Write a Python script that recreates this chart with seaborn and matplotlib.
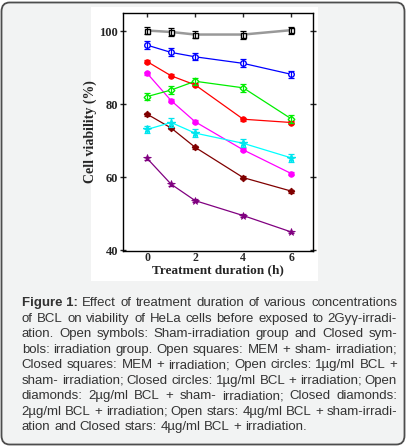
import matplotlib
matplotlib.use("Agg")
import matplotlib.pyplot as plt
import seaborn as sns
import pandas as pd
from matplotlib.patches import FancyBboxPatch, Rectangle

# data
hours = [0, 1, 2, 4, 6]
mem_sham = [100.2, 99.8, 99.1, 99.1, 100.3]
bcl1_sham = [96.2, 94.2, 93.0, 91.2, 88.2]
bcl1_irr = [91.7, 87.8, 85.3, 75.9, 75.0]
mem_irr = [88.5, 81.0, 75.2, 67.5, 61.0]
bcl2_sham = [82.1, 83.9, 86.3, 84.5, 76.0]
bcl2_irr = [77.3, 73.5, 68.2, 59.9, 56.2]
bcl4_sham = [73.1, 75.0, 72.1, 69.3, 65.3]
bcl4_irr = [65.2, 58.1, 53.6, 49.5, 45.0]
sham_err = [1.0, 1.1, 1.0, 1.1, 1.0]
irr_err = [0.4, 0.4, 0.4, 0.4, 0.4]

series = [
    ("MEM + sham", mem_sham, sham_err, "#000000", "#999999", "s", True),
    ("1ug BCL + sham", bcl1_sham, sham_err, "#0000ff", "#0000ff", "o", True),
    ("1ug BCL + irr", bcl1_irr, irr_err, "#ff0000", "#ff0000", "o", False),
    ("MEM + irr", mem_irr, irr_err, "#ff00ff", "#ff00ff", "o", False),
    ("2ug BCL + sham", bcl2_sham, sham_err, "#00ee00", "#00ee00", "D", True),
    ("2ug BCL + irr", bcl2_irr, irr_err, "#800000", "#800000", "D", False),
    ("4ug BCL + sham", bcl4_sham, sham_err, "#00e5ee", "#00ffff", "*", True),
    ("4ug BCL + irr", bcl4_irr, irr_err, "#800080", "#800080", "*", False),
]

caption = [
    "Effect of treatment duration of various concentrations",
    "of BCL on viability of HeLa cells before exposed to 2Gyγ-irradi-",
    "ation. Open symbols: Sham-irradiation group and Closed sym-",
    "bols: irradiation group. Open squares: MEM + sham- irradiation;",
    "Closed squares: MEM + irradiation; Open circles: 1µg/ml BCL +",
    "sham- irradiation; Closed circles: 1µg/ml BCL + irradiation; Open",
    "diamonds: 2µg/ml BCL + sham- irradiation; Closed diamonds:",
    "2µg/ml BCL + irradiation; Open stars: 4µg/ml BCL + sham-irradi-",
    "ation and Closed stars: 4µg/ml BCL + irradiation.",
]

sns.set_style("ticks")
W, H = 408, 446
fig = plt.figure(figsize=(W / 100, H / 100), dpi=100)
fig.patch.set_facecolor("white")

# card background
card = FancyBboxPatch((1.5 / W, 1.5 / H), (W - 5) / W, (H - 4) / H,
                      boxstyle="round,pad=0,rounding_size=0.02",
                      transform=fig.transFigure, facecolor="#f2f3f3",
                      edgecolor="#4d4d4d", linewidth=1.3, zorder=0)
fig.patches.append(card)
# white plot image
fig.patches.append(Rectangle((91 / W, 1 - 281 / H), 227 / W, 274 / H,
                             transform=fig.transFigure, facecolor="white",
                             edgecolor="none", zorder=0.5))

ax = fig.add_axes([123 / W, 1 - 251 / H, 190 / W, 238 / H])
ax.set_zorder(2)
ax.set_facecolor("white")

for name, vals, err, col, lcol, mk, is_open in series:
    df = pd.DataFrame({"h": hours, "v": vals})
    ms = {"s": 3.6, "o": 4.0, "D": 3.4, "*": 5.5}[mk]
    sns.lineplot(data=df, x="h", y="v", ax=ax, color=lcol,
                 linewidth=1.8 if lcol == "#999999" else 0.9,
                 marker=mk, markersize=ms, markeredgecolor=col,
                 markerfacecolor="white" if is_open else col,
                 markeredgewidth=1.0 if is_open else 0.6, zorder=3)
    ax.errorbar(hours, vals, yerr=err, fmt="none", ecolor=col, elinewidth=0.9,
                capsize=2.3, capthick=0.9, zorder=4)

serif = "Liberation Serif"
ax.set_xlim(-1, 6.9)
ax.set_ylim(39.8, 105)
ax.set_xticks([0, 2, 4, 6])
ax.set_yticks([40, 60, 80, 100])
for s in ax.spines.values():
    s.set_visible(True)
    s.set_color("black")
    s.set_linewidth(1.0)
ax.tick_params(axis="y", which="both", left=True, right=True, direction="out",
               length=3, width=1, labelsize=9, pad=1)
ax.tick_params(axis="y", which="both", right=True, direction="inout", length=5)
ax.tick_params(axis="x", bottom=False, top=True, direction="in", length=3,
               width=1, labelsize=8.5, pad=1)
for lab in ax.get_xticklabels() + ax.get_yticklabels():
    lab.set_fontfamily(serif)
    lab.set_fontweight("bold")

ax.set_xlabel("Treatment duration (h)", fontfamily=serif, fontweight="bold",
              fontsize=9.5, labelpad=0)
ax.set_ylabel("Cell viability (%)", fontfamily=serif, fontweight="bold",
              fontsize=10, labelpad=2)

# justified caption
fs = 9.5
x0, x1 = 21.7, 397.0
y_first = 303.3
dy = 15.5
fig.canvas.draw()
r = fig.canvas.get_renderer()
for i, line in enumerate(caption):
    y = 1 - (y_first + i * dy) / H
    pieces = []
    if i == 0:
        pieces.append(("Figure 1:", "bold"))
    pieces += [(w, "normal") for w in line.split(" ")]
    texts = []
    for w, wt in pieces:
        t = fig.text(0, y, w, fontsize=fs, fontweight=wt, family="Liberation Sans",
                     color="#333333", va="center", ha="left")
        texts.append(t)
    widths = [t.get_window_extent(renderer=r).width for t in texts]
    space = fs * 0.39
    if i < len(caption) - 1:
        gap = (x1 - x0 - sum(widths)) / (len(texts) - 1)
    else:
        gap = space
    x = x0
    for t, w in zip(texts, widths):
        t.set_x(x / W)
        x += w + gap

fig.savefig("out.png", dpi=100)
